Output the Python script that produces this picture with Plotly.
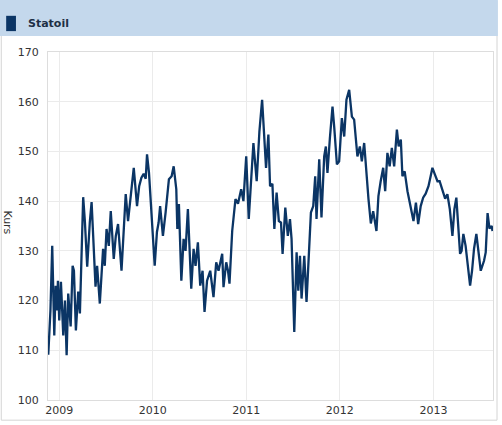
import pandas as pd
import plotly.graph_objects as go

# decimal years, with the closing price (Kurs)
years = [2008.883, 2008.906, 2008.925, 2008.936, 2008.947, 2008.962, 2008.975, 2008.986,
         2009.000, 2009.018, 2009.029, 2009.043, 2009.061, 2009.079, 2009.096, 2009.122,
         2009.143, 2009.157, 2009.178, 2009.203, 2009.221, 2009.239, 2009.256, 2009.274,
         2009.299, 2009.327, 2009.346, 2009.363, 2009.388, 2009.405, 2009.434, 2009.469,
         2009.487, 2009.506, 2009.530, 2009.551, 2009.583, 2009.605, 2009.629, 2009.666,
         2009.711, 2009.736, 2009.765, 2009.797, 2009.832, 2009.855, 2009.879, 2009.903,
         2009.925, 2009.939, 2009.960, 2009.986, 2010.000, 2010.021, 2010.045, 2010.063,
         2010.079, 2010.109, 2010.138, 2010.173, 2010.202, 2010.224, 2010.252, 2010.263,
         2010.280, 2010.306, 2010.330, 2010.351, 2010.376, 2010.394, 2010.412, 2010.437,
         2010.458, 2010.483, 2010.508, 2010.533, 2010.554, 2010.581, 2010.615, 2010.650,
         2010.679, 2010.704, 2010.743, 2010.757, 2010.786, 2010.805, 2010.821, 2010.850,
         2010.885, 2010.912, 2010.946, 2010.970, 2011.000, 2011.027, 2011.052, 2011.077,
         2011.112, 2011.141, 2011.170, 2011.194, 2011.212, 2011.237, 2011.255, 2011.280,
         2011.301, 2011.325, 2011.349, 2011.372, 2011.389, 2011.418, 2011.445, 2011.468,
         2011.485, 2011.514, 2011.539, 2011.557, 2011.575, 2011.592, 2011.621, 2011.645,
         2011.669, 2011.692, 2011.717, 2011.738, 2011.752, 2011.781, 2011.805, 2011.834,
         2011.852, 2011.869, 2011.895, 2011.923, 2011.941, 2011.970, 2011.994, 2012.023,
         2012.048, 2012.072, 2012.101, 2012.130, 2012.154, 2012.189, 2012.215, 2012.236,
         2012.261, 2012.279, 2012.307, 2012.332, 2012.357, 2012.392, 2012.413, 2012.437,
         2012.464, 2012.485, 2012.509, 2012.533, 2012.556, 2012.581, 2012.610, 2012.629,
         2012.652, 2012.669, 2012.693, 2012.723, 2012.752, 2012.787, 2012.813, 2012.837,
         2012.864, 2012.890, 2012.917, 2012.947, 2012.970, 2012.989, 2013.013, 2013.043,
         2013.066, 2013.096, 2013.125, 2013.149, 2013.175, 2013.203, 2013.224, 2013.245,
         2013.264, 2013.285, 2013.301, 2013.320, 2013.344, 2013.370, 2013.392, 2013.413,
         2013.434, 2013.459, 2013.482, 2013.506, 2013.541, 2013.559, 2013.579, 2013.599,
         2013.623, 2013.632]
kurs = [109.1, 118.0, 131.0, 120.0, 113.0, 123.0, 118.0, 124.0,
        116.0, 123.8, 119.0, 113.0, 120.0, 109.0, 121.4, 114.8,
        127.0, 126.0, 114.0, 121.8, 117.4, 127.8, 140.8, 136.0,
        126.8, 135.8, 139.8, 133.0, 122.8, 127.0, 119.4, 130.4,
        127.0, 134.4, 131.0, 138.0, 128.4, 133.0, 135.4, 126.0,
        141.4, 136.0, 141.7, 146.7, 139.0, 143.0, 144.7, 145.5,
        144.5, 149.4, 145.7, 137.0, 134.0, 127.0, 133.8, 135.7,
        139.0, 133.0, 137.8, 144.4, 145.0, 147.0, 142.4, 134.4,
        139.4, 124.0, 132.4, 130.0, 138.4, 131.0, 122.4, 130.4,
        127.0, 131.7, 123.0, 126.0, 117.7, 124.0, 126.0, 120.7,
        127.7, 126.0, 129.4, 122.7, 127.7, 126.0, 123.4, 134.0,
        140.4, 139.5, 142.4, 140.0, 149.0, 136.4, 144.4, 151.7,
        144.0, 154.0, 160.4, 151.0, 146.7, 153.4, 143.0, 143.5,
        134.4, 141.7, 136.0, 135.7, 129.4, 138.7, 133.0, 136.4,
        132.4, 113.7, 129.7, 122.0, 129.0, 120.4, 129.0, 119.7,
        128.0, 137.7, 139.0, 145.0, 136.4, 148.4, 136.7, 149.0,
        151.0, 145.7, 152.7, 159.0, 155.0, 147.4, 148.0, 156.7,
        153.0, 160.4, 162.4, 157.0, 156.4, 149.0, 151.0, 148.0,
        151.7, 146.4, 140.4, 135.5, 138.0, 134.0, 141.0, 144.0,
        146.7, 142.0, 149.7, 147.0, 150.7, 147.0, 154.4, 151.0,
        152.4, 145.0, 146.0, 142.0, 139.0, 136.0, 139.7, 135.4,
        139.0, 140.7, 141.5, 143.0, 145.0, 146.7, 145.5, 144.0,
        144.0, 142.0, 140.5, 141.4, 138.4, 133.0, 138.4, 140.7,
        136.0, 129.4, 130.0, 133.4, 131.0, 127.0, 123.0, 126.0,
        130.4, 133.4, 130.0, 126.0, 128.0, 129.7, 137.6, 134.5,
        135.0, 134.0]

y_ticks = [100, 110, 120, 130, 140, 150, 160, 170]
x_start = 2008.88
x_end = 2013.637


def to_date(y):
    year = int(y)
    start = pd.Timestamp(year=year, month=1, day=1)
    end = pd.Timestamp(year=year + 1, month=1, day=1)
    return start + (end - start) * (y - year)


dates = [to_date(y) for y in years]

fig = go.Figure()
fig.add_trace(go.Scatter(x=dates, y=kurs, mode='lines', name='Statoil',
                         line=dict(color='#0b3565', width=2.3)))

fnt = dict(family='DejaVu Sans, Verdana, sans-serif', size=11, color='#333333')

fig.update_layout(
    width=502, height=425,
    margin=dict(l=48, r=8, t=52, b=23),
    paper_bgcolor='white', plot_bgcolor='white',
    showlegend=False,
    font=fnt,
    xaxis=dict(range=[to_date(x_start), to_date(x_end)], dtick='M12', tick0='2009-01-01',
               tickformat='%Y', showgrid=True, gridcolor='#ebebeb', gridwidth=1,
               showline=True, linecolor='#dddddd', mirror=True, ticks='',
               zeroline=False, tickfont=fnt),
    yaxis=dict(range=[100, 170], tickvals=y_ticks, showgrid=True, gridcolor='#ebebeb',
               showline=True, linecolor='#dddddd', mirror=True, ticks='',
               zeroline=False, tickfont=fnt, ticklabelstandoff=6),
)

# outer frame and header band
fig.add_shape(type='rect', xref='paper', yref='paper', x0=-0.105, x1=1.009,
              y0=-0.058, y1=1.146, line=dict(color='#d4d4d4', width=1),
              fillcolor='rgba(0,0,0,0)', layer='below')
fig.add_shape(type='rect', xref='paper', yref='paper', x0=-0.108, x1=1.011,
              y0=1.046, y1=1.15, line=dict(width=0), fillcolor='#c4d8ec', layer='below')
fig.add_shape(type='rect', xref='paper', yref='paper', x0=-0.094, x1=-0.072,
              y0=1.06, y1=1.104, line=dict(width=0), fillcolor='#0b3565')
fig.add_annotation(text='<b>Statoil</b>', xref='paper', yref='paper', x=-0.05, y=1.082,
                   xanchor='left', yanchor='middle', showarrow=False,
                   font=dict(family='DejaVu Sans, Verdana, sans-serif', size=11, color='#1e2f45'))
fig.add_annotation(text='Kurs', xref='paper', yref='paper', x=-0.092, y=0.51,
                   textangle=90, showarrow=False, xanchor='center', yanchor='middle',
                   font=dict(family='DejaVu Sans, Verdana, sans-serif', size=11, color='#333333'))

# page has a default body margin; drop it so the chart sits at the top-left corner
fig.write_html("out.html", config={'displayModeBar': False},
               post_script="document.body.style.margin='0';")
